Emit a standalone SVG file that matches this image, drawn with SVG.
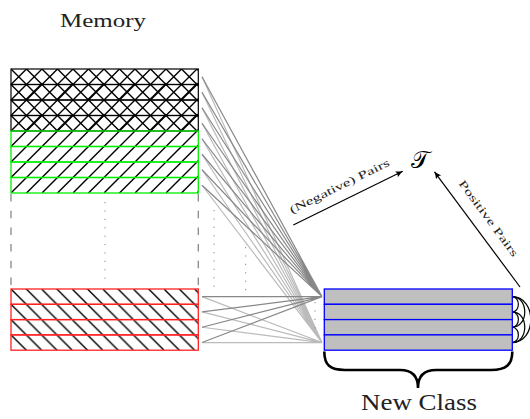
<svg xmlns="http://www.w3.org/2000/svg" width="530" height="419" viewBox="0 0 530 419">
<style>
.lbl{font-family:"Liberation Serif","DejaVu Serif",serif;fill:#222}
.dk{stroke:#888;stroke-width:1.2;fill:none}
.lt{stroke:#bbb;stroke-width:1.2;fill:none}
.dot{stroke:#888;stroke-width:1;stroke-dasharray:1.2 7.2;fill:none}
.dash{stroke:#888;stroke-width:1.3;stroke-dasharray:7.5 9.2;fill:none}
.hatch{stroke:#000;stroke-width:1.4;fill:none}
.arr{stroke:#000;stroke-width:1.2;fill:none}
</style>
<defs>
<pattern id="xh" patternUnits="userSpaceOnUse" x="11" y="69" width="31" height="31">
<path class="hatch" d="M-31,0L31,62M-15.5,0L31,46.5M0,0L31,31M15.5,0L31,15.5M0,15.5L15.5,31M-1,-16.5L31,15.5"/>
<path class="hatch" d="M0,0L-1,1M0,15.5L15.5,0M0,31L31,0M15.5,31L31,15.5M-1,46.5L46.5,-1"/>
</pattern>
<pattern id="ne" patternUnits="userSpaceOnUse" x="11" y="131" width="31" height="31">
<path class="hatch" d="M-1,16.5L16.5,-1M-1,32L32,-1M14.5,32L32,14.5"/>
</pattern>
<pattern id="nw" patternUnits="userSpaceOnUse" x="11" y="289" width="30.6" height="30.6">
<path class="hatch" d="M-1,-1L31.6,31.6M-1,14.3L16.3,31.6M14.3,-1L31.6,16.3"/>
</pattern>
<marker id="ah" markerUnits="userSpaceOnUse" viewBox="-8 -4 9 8" markerWidth="9" markerHeight="8" refX="0" refY="0" orient="auto">
<path d="M0,0 Q-3,-1 -7,-3.2 Q-5,0 -7,3.2 Q-3,1 0,0Z" fill="#000"/>
</marker>
</defs>

<text class="lbl" x="103" y="27" font-size="19" text-anchor="middle" textLength="86" lengthAdjust="spacingAndGlyphs">Memory</text>

<g id="memory-old">
<rect x="11" y="69" width="187.3" height="62" fill="url(#xh)"/>
<g fill="none" stroke="#000" stroke-width="1.2">
<rect x="11" y="69" width="187.3" height="15.5"/>
<rect x="11" y="84.5" width="187.3" height="15.5"/>
<rect x="11" y="100" width="187.3" height="15.5"/>
<rect x="11" y="115.5" width="187.3" height="15.5"/>
</g>
</g>

<g id="memory-green">
<rect x="11" y="131" width="187.3" height="62" fill="url(#ne)"/>
<g fill="none" stroke="#00ee00" stroke-width="1.3">
<rect x="11" y="131" width="187.3" height="15.5"/>
<rect x="11" y="146.5" width="187.3" height="15.5"/>
<rect x="11" y="162" width="187.3" height="15.5"/>
<rect x="11" y="177.5" width="187.3" height="15.5"/>
</g>
</g>

<g id="memory-gap">
<path class="dash" d="M11,194V289M198.3,194V289"/>
<path class="dot" d="M105,202V282"/>
</g>

<g id="memory-red">
<rect x="11" y="289" width="187.3" height="61.2" fill="url(#nw)"/>
<g fill="none" stroke="#ff2020" stroke-width="1.3">
<rect x="11" y="289" width="187.3" height="15.3"/>
<rect x="11" y="304.3" width="187.3" height="15.3"/>
<rect x="11" y="319.6" width="187.3" height="15.3"/>
<rect x="11" y="334.9" width="187.3" height="15.3"/>
</g>
</g>

<g id="connectors">
<g class="lt">
<path d="M202,76.75L322,342.55M202,92.25L322,342.55M202,107.75L322,342.55M202,123.25L322,342.55M202,138.75L322,342.55M202,154.25L322,342.55M202,169.75L322,342.55M202,185.25L322,342.55"/>
<path d="M202,296.65L322,342.55M202,311.95L322,342.55M202,327.25L322,342.55M202,342.55L322,342.55"/>
</g>
<g class="dk">
<path d="M202,76.75L322,296.65M202,92.25L322,296.65M202,107.75L322,296.65M202,123.25L322,296.65M202,138.75L322,296.65M202,154.25L322,296.65M202,169.75L322,296.65M202,185.25L322,296.65"/>
<path d="M202,296.65L322,296.65M202,311.95L322,296.65M202,327.25L322,296.65M202,342.55L322,296.65"/>
</g>
<path class="dot" d="M214,210V292M245.7,247V292M315,302V330"/>
<g class="arr">
<path d="M512,296.65C520.5,296.65 520.5,311.95 512,311.95M512,311.95C520.5,311.95 520.5,327.25 512,327.25M512,327.25C520.5,327.25 520.5,342.55 512,342.55"/>
<path d="M512,296.65C529,296.65 529,327.25 512,327.25M512,311.95C529,311.95 529,342.55 512,342.55"/>
<path d="M512,296.65C537,296.65 537,342.55 512,342.55"/>
</g>
<path class="arr" d="M293.3,225L402.7,171.2" marker-end="url(#ah)"/>
<path class="arr" d="M520,287L434.5,171.8" marker-end="url(#ah)"/>
<path d="M324.3,351.5C324.3,365 330,370 345,370L400,370C412,370 418,376 418,388C418,376 424,370 436,370L491,370C506,370 512.3,365 512.3,351.5" fill="none" stroke="#000" stroke-width="2.6"/>
</g>

<g id="new-class">
<g fill="#bfbfbf" stroke="#0000ff" stroke-width="1.3">
<rect x="324.3" y="289" width="188" height="15.3"/>
<rect x="324.3" y="304.3" width="188" height="15.3"/>
<rect x="324.3" y="319.6" width="188" height="15.3"/>
<rect x="324.3" y="334.9" width="188" height="15.3"/>
</g>
<text class="lbl" x="419" y="410" font-size="23" text-anchor="middle" textLength="116" lengthAdjust="spacingAndGlyphs">New Class</text>
</g>

<g id="T">
<text x="420" y="168" font-size="24" text-anchor="middle" font-family="'DejaVu Serif','Noto Sans','DejaVu Sans',serif" fill="#000">𝒯</text>
</g>

<text class="lbl" transform="translate(341,189.5) rotate(-26.2)" font-size="11" text-anchor="middle" textLength="110" lengthAdjust="spacingAndGlyphs">(Negative) Pairs</text>
<text class="lbl" transform="translate(485.5,220.5) rotate(53.5)" font-size="11" text-anchor="middle" textLength="92" lengthAdjust="spacingAndGlyphs">Positive Pairs</text>
</svg>
